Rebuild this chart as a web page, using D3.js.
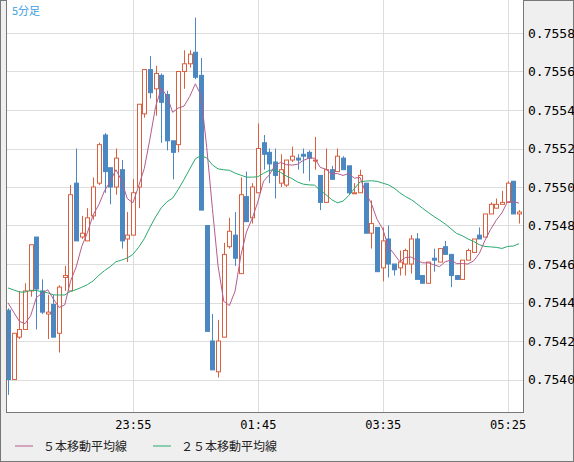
<!DOCTYPE html>
<html><head><meta charset="utf-8">
<script src="https://cdn.jsdelivr.net/npm/d3@7"></script>
<style>body{margin:0;background:#efefef}svg{display:block}</style>
</head><body><svg width="574" height="462"></svg>
<script>
// 5-minute candles 22:05 .. 05:35
var opens = [.75436,.7540,.75422,.75426,.75446,.75474,.75446,.75434,.75439,.75424,.75453,.75446,.75502,.75474,.75472,.75485,.75502,.75527,.7551,.755,.75509,.75473,
  .75475,.755,.75538,.75561,.75551,.75558,.75548,.75524,.75522,.7556,.75564,.7557,.75558,.7548,.7542,.75404,.75422,.75469,.75475,.75455,.75495,.75484,.75497,
  .75523,.75518,.75513,.75502,.75501,.75514,.75515,.75517,.75518,.75514,.75506,.75492,.75509,.75508,.75515,.75511,.75497,.75497,.75502,.75476,.75479,.75458,.75473,
  .7546,.75458,.7546,.7546,.75473,.75454,.7545,.75463,.75461,.75469,.75465,.75454,.75452,.75462,.75466,.75475,.75474,.75486,.75489,.75491,.75492,.75503,.75486];
var closes = [.7540,.75424,.75426,.75446,.7547,.75447,.75435,.75435,.75422,.75448,.75454,.75496,.75472,.75476,.75484,.755,.75522,.75508,.755,.75515,.75472,.75475,
  .75497,.75543,.75561,.75549,.75559,.75544,.75524,.75518,.7556,.75564,.75569,.75557,.75488,.75425,.75405,.7542,.75465,.75477,.75463,.75496,.75482,.755,.7552,
  .75517,.75512,.75506,.75509,.75514,.75516,.75514,.75516,.75515,.75514,.75492,.75509,.75504,.75516,.75509,.75497,.75497,.75506,.75476,.75481,.75456,.75472,.7546,
  .75457,.75461,.75467,.75473,.75452,.7545,.75461,.75462,.75468,.75465,.75454,.75452,.75462,.75467,.75473,.75473,.75486,.75491,.75491,.75492,.75502,.75486,.75487];
var highs = [.75437,.75424,.75446,.7545,.7547,.75474,.75452,.75444,.75444,.75449,.75459,.75501,.7552,.75485,.75489,.75505,.75523,.75528,.7551,.7552,.75514,.75487,
  .75504,.75543,.75561,.75568,.75563,.75559,.7555,.75524,.7556,.75571,.75571,.75588,.75567,.7548,.75434,.75431,.75471,.75484,.75487,.75505,.75508,.75502,.75533,
  .75527,.7552,.7552,.75517,.75514,.75521,.75517,.7552,.75519,.75526,.75506,.7552,.75511,.7552,.75516,.75511,.75502,.75509,.75502,.75493,.75479,.75479,.7548,
  .7546,.75467,.75468,.75475,.75476,.75454,.75461,.75468,.75468,.75472,.75465,.75454,.75462,.75468,.75473,.75479,.75486,.75492,.75494,.75498,.75503,.75503,.75488];
var lows = [.75392,.7540,.75421,.75426,.75443,.75426,.75434,.75421,.75422,.75414,.75446,.75446,.75472,.75473,.75472,.75483,.75501,.75497,.75491,.75496,.75468,.75461,
  .75475,.75489,.75536,.75546,.75537,.75523,.75519,.75504,.75518,.75551,.75562,.75556,.75488,.75425,.75405,.75401,.75422,.75468,.75459,.75455,.75482,.75481,.75497,
  .75509,.75502,.75494,.755,.755,.75513,.75509,.75507,.75503,.75509,.75488,.75492,.75504,.75508,.75509,.75496,.75497,.75497,.75476,.75468,.75456,.75451,.75453,
  .75454,.75454,.75454,.75455,.75452,.7545,.7545,.75456,.75461,.75465,.75448,.75452,.75452,.75462,.75466,.75473,.75474,.75486,.75489,.75491,.75492,.75486,.75481];
// closes before the first visible candle (feeds the 25-bar average at the left edge)
var priorCloses = [.75450,.75452,.75448,.75446,.75450,.75452,.75449,.75447,.75451,.75453,.75450,.75448,.75446,.75449,.75452,.75450,.75447,.75449,.75451,.75450,.75448,.75450,.75452,.75449];
var tickTimes = ["23:55", "01:45", "03:35", "05:25"];
var tickIndex = [22, 44, 66, 88];
var priceTicks = [0.7540, 0.7542, 0.7544, 0.7546, 0.7548, 0.7550, 0.7552, 0.7554, 0.7556, 0.7558];
var seriesNames = ["５本移動平均線", "２５本移動平均線"];

var pLeft = 7, pRight = 523, pTop = 0, pBottom = 412;
var svg = d3.select("svg");

var x = d3.scaleLinear().domain([0, 90]).range([8, 519]);
var y = d3.scaleLinear().domain([0.7540, 0.7558]).range([379.5, 33]);

var allCloses = priorCloses.concat(closes);
function sma(n) {
    var off = priorCloses.length;
    return closes.map(function(c, i) {
        var j = i + off;
        return d3.mean(allCloses.slice(Math.max(0, j - n + 1), j + 1));
    });
}

svg.append("rect").attr("x", 0.5).attr("y", 0.5).attr("width", 573).attr("height", 461)
    .attr("fill", "#efefef").attr("stroke", "#777");
svg.append("rect").attr("x", pLeft).attr("y", pTop).attr("width", pRight - pLeft).attr("height", pBottom - pTop)
    .attr("fill", "#fff");

// grid
svg.append("g").selectAll("line").data(priceTicks).enter().append("line")
    .attr("x1", pLeft).attr("x2", pRight)
    .attr("y1", function(d) { return Math.round(y(d)) + 0.5; })
    .attr("y2", function(d) { return Math.round(y(d)) + 0.5; })
    .attr("stroke", "#ddd");
svg.append("g").selectAll("line").data(tickIndex).enter().append("line")
    .attr("x1", function(d) { return Math.round(x(d)) + 0.5; })
    .attr("x2", function(d) { return Math.round(x(d)) + 0.5; })
    .attr("y1", pTop).attr("y2", pBottom)
    .attr("stroke", "#ddd");

// candles
var idx = d3.range(closes.length);
var c = svg.append("g").selectAll("g").data(idx).enter().append("g");
c.append("line")
    .attr("x1", function(i) { return Math.round(x(i)) + 0.5; })
    .attr("x2", function(i) { return Math.round(x(i)) + 0.5; })
    .attr("y1", function(i) { return y(highs[i]); })
    .attr("y2", function(i) { return y(lows[i]); })
    .attr("stroke", function(i) { return closes[i] >= opens[i] ? "#d9603f" : "#4b88c2"; });
c.append("rect")
    .attr("x", function(i) { return Math.round(x(i)) - 1.5; })
    .attr("width", 4)
    .attr("y", function(i) { return y(Math.max(opens[i], closes[i])); })
    .attr("height", function(i) { return Math.max(1, Math.abs(y(opens[i]) - y(closes[i]))); })
    .attr("fill", function(i) { return closes[i] >= opens[i] ? "#fff" : "#4b88c2"; })
    .attr("stroke", function(i) { return closes[i] >= opens[i] ? "#d9603f" : "#4b88c2"; });

// moving averages
var line = d3.line().x(function(d, i) { return x(i); }).y(function(d) { return y(d); });
svg.append("path").datum(sma(25)).attr("d", line).attr("fill", "none").attr("stroke", "#2aa86e");
svg.append("path").datum(sma(5)).attr("d", line).attr("fill", "none").attr("stroke", "#b55c8c");

// frame
svg.append("rect").attr("x", pLeft - 0.5).attr("y", pTop - 0.5).attr("width", pRight - pLeft + 1).attr("height", pBottom - pTop + 1)
    .attr("fill", "none").attr("stroke", "#777");

svg.append("text").attr("x", 12).attr("y", 15).attr("fill", "#3aa0e0")
    .style("font", "11px 'Noto Sans CJK JP'").text("5分足");

// axes
var yAxis = d3.axisRight(y).tickValues(priceTicks).tickSize(0).tickFormat(d3.format(".4f"));
svg.append("g").attr("transform", "translate(" + (pRight + 2) + ",0)").call(yAxis)
    .call(function(g) { g.select(".domain").remove(); })
    .selectAll("text").attr("fill", "#000").style("font", "13px 'DejaVu Sans Mono'");
var xAxis = d3.axisBottom(x).tickValues(tickIndex).tickSize(0)
    .tickFormat(function(d, i) { return tickTimes[i]; });
svg.append("g").attr("transform", "translate(0," + (pBottom + 5) + ")").call(xAxis)
    .call(function(g) { g.select(".domain").remove(); })
    .selectAll("text").attr("fill", "#000").style("font", "12px 'DejaVu Sans Mono'");

// legend
var lg = svg.append("g").selectAll("g").data(seriesNames).enter().append("g")
    .attr("transform", function(d, i) { return "translate(" + (i ? 153 : 15) + ",446)"; });
lg.append("line").attr("x1", 0).attr("x2", 18).attr("y1", 0).attr("y2", 0)
    .attr("stroke", function(d, i) { return i ? "#2aa86e" : "#b55c8c"; });
lg.append("text").attr("x", 28).attr("y", 5).text(function(d) { return d; })
    .style("font", "12px 'Noto Sans CJK JP'").attr("fill", "#222");
</script></body></html>
